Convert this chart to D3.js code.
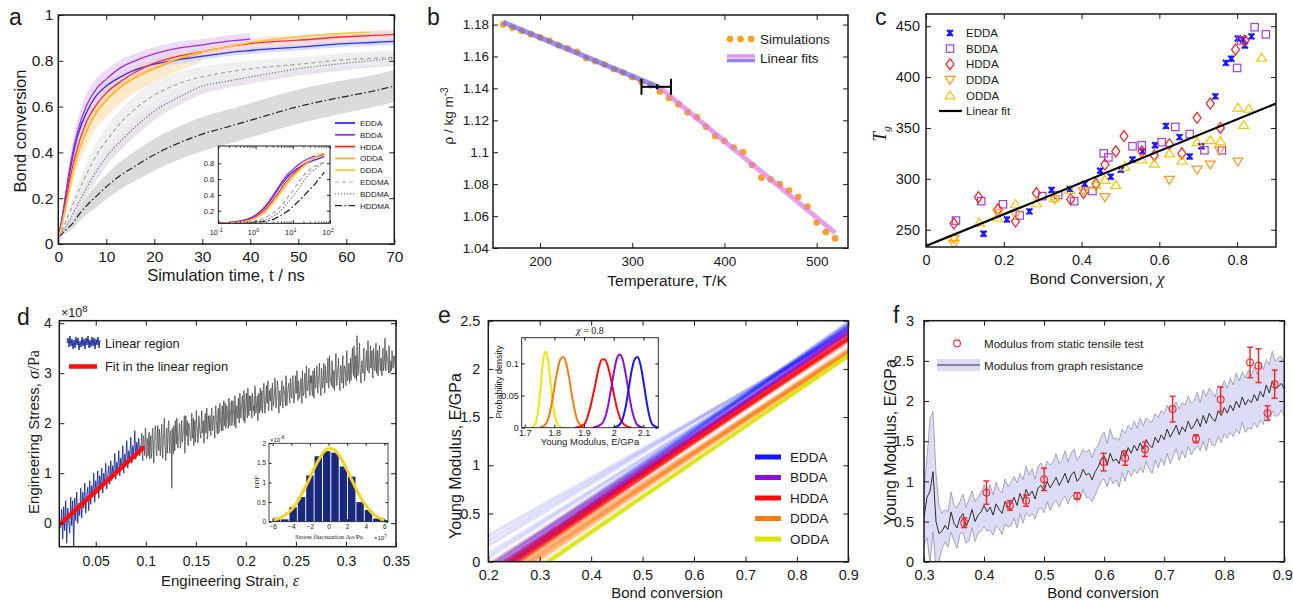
<!DOCTYPE html>
<html>
<head>
<meta charset="utf-8">
<script src="https://cdn.jsdelivr.net/npm/d3@7"></script>
<style>
  body { margin: 0; background: #fff; }
</style>
</head>
<body>
<svg id="fig" width="1293" height="601"></svg>
<script>
/* ---------- data : panel a (bond conversion vs time) ---------- */
var aTime  = [0.1,0.3,0.6,1,2,3,4,6,8,10,13,16,20,25,30,35,40,50,60,65,70];
var aEDDA  = [0.04,0.06,0.09,0.14,0.27,0.38,0.47,0.58,0.65,0.69,0.73,0.76,0.785,0.805,0.82,0.835,0.845,0.86,0.875,0.88,0.885];
var aBDDA  = [0.04,0.06,0.09,0.14,0.28,0.40,0.49,0.61,0.68,0.72,0.77,0.80,0.83,0.855,0.87,0.885,0.895];
var aHDDA  = [0.04,0.05,0.08,0.12,0.24,0.34,0.42,0.54,0.61,0.66,0.71,0.75,0.79,0.82,0.84,0.86,0.875,0.89,0.905,0.91,0.915];
var aODDA  = [0.04,0.05,0.07,0.105,0.205,0.305,0.385,0.495,0.575,0.625,0.685,0.725,0.765,0.805,0.835];
var aDDDA  = [0.04,0.05,0.07,0.11,0.21,0.31,0.39,0.50,0.58,0.63,0.69,0.73,0.77,0.81,0.84,0.86,0.88,0.905,0.92,0.925];
var aEDDMA = [0.03,0.04,0.05,0.07,0.12,0.17,0.22,0.31,0.39,0.45,0.53,0.59,0.65,0.70,0.73,0.75,0.765,0.785,0.805,0.81,0.815];
var aBDDMA = [0.03,0.035,0.045,0.06,0.09,0.13,0.17,0.25,0.32,0.38,0.45,0.51,0.58,0.64,0.69,0.71,0.73,0.765,0.79,0.80,0.81];
var aHDDMA = [0.03,0.035,0.04,0.05,0.07,0.09,0.12,0.17,0.21,0.25,0.30,0.34,0.39,0.44,0.48,0.51,0.54,0.60,0.645,0.665,0.69];
// half widths of the shaded bands
var aSprEDDA  = [0.005,0.01,0.01,0.015,0.025,0.03,0.03,0.03,0.03,0.025,0.02,0.02,0.02,0.018,0.015,0.015,0.015,0.015,0.015,0.015,0.015];
var aSprBDDA  = [0.005,0.01,0.015,0.02,0.035,0.045,0.05,0.05,0.045,0.04,0.035,0.032,0.03,0.028,0.025,0.025,0.025];
var aSprHDDA  = [0.005,0.01,0.01,0.015,0.02,0.025,0.025,0.025,0.025,0.02,0.02,0.02,0.02,0.02,0.02,0.02,0.02,0.02,0.02,0.02,0.02];
var aSprODDA  = [0.005,0.01,0.01,0.015,0.03,0.04,0.05,0.06,0.065,0.07,0.07,0.065,0.06,0.05,0.04];
var aSprEDDMA = [0.005,0.01,0.01,0.015,0.02,0.03,0.04,0.05,0.055,0.06,0.06,0.06,0.055,0.05,0.045,0.04,0.035,0.03,0.03,0.03,0.03];
var aSprBDDMA = [0.005,0.01,0.01,0.015,0.02,0.025,0.03,0.035,0.04,0.04,0.04,0.04,0.04,0.035,0.035,0.03,0.03,0.03,0.03,0.03,0.03];
var aSprHDDMA = [0.005,0.01,0.01,0.01,0.02,0.025,0.03,0.04,0.05,0.055,0.06,0.065,0.07,0.072,0.075,0.075,0.075,0.075,0.072,0.07,0.07];

/* ---------- data : panel b (density vs temperature) ---------- */
var bTemp = [160,170,180,190,200,210,220,230,240,250,260,270,280,290,300,310,320,330,340,350,360,370,380,390,400,410,420,430,440,450,460,470,480,490,500,510,520];
var bRho  = [1.180,1.178,1.176,1.174,1.172,1.170,1.167,1.165,1.163,1.159,1.157,1.155,1.152,1.150,1.147,1.144,1.142,1.138,1.134,1.130,1.125,1.122,1.116,1.110,1.107,1.103,1.100,1.092,1.084,1.083,1.080,1.076,1.072,1.066,1.056,1.050,1.046];
var bGlassT = [160,330], bGlassRho = [1.1815,1.1405];
var bRubberT = [330,520], bRubberRho = [1.1405,1.0495];
var bTg = {mid: 327, lo: 310, hi: 342, rho: 1.141};

/* ---------- data : panel c (Tg vs bond conversion) ---------- */
var cEDDAx = [0.802,0.815,0.82,0.837,0.771,0.785,0.744,0.708,0.678,0.652,0.617,0.589,0.557,0.531,0.501,0.475,0.448,0.408,0.37,0.323,0.266,0.208,0.148];
var cEDDAy = [438,437,431,440,414,418,381,332,322,341,352,333,327,319,309,302,308,295,290,289,268,260,246];
var cBDDAx = [0.845,0.874,0.8,0.81,0.716,0.761,0.678,0.641,0.606,0.555,0.531,0.469,0.457,0.428,0.381,0.34,0.299,0.241,0.198,0.142,0.077];
var cBDDAy = [449,442,409,436,328,328,344,351,336,333,332,321,325,288,278,284,283,264,275,278,259];
var cHDDAx = [0.796,0.82,0.757,0.731,0.697,0.658,0.626,0.587,0.555,0.509,0.488,0.46,0.437,0.405,0.372,0.284,0.23,0.185,0.135,0.072];
var cHDDAy = [427,436,350,374,360,325,334,323,327,342,327,314,295,286,280,286,258,270,282,256];
var cDDDAx = [0.802,0.731,0.697,0.755,0.626,0.46,0.405,0.331,0.23,0.185,0.072,0.072];
var cDDDAy = [317,314,309,328,299,282,288,280,265,266,236,241];
var cODDAx = [0.863,0.802,0.83,0.817,0.757,0.731,0.697,0.658,0.626,0.587,0.555,0.511,0.488,0.46,0.437,0.37,0.33,0.284,0.23,0.184,0.137,0.072];
var cODDAy = [419,370,369,353,337,338,336,318,325,315,319,312,294,299,294,289,281,276,275,262,257,242];
var cFitX = [0, 0.9], cFitY = [234, 374];

/* ---------- data : panel d (stress-strain, units of 1e8 Pa) ---------- */
var dStep = 0.001;
var dBlueStart = 0.015;
var dBlue = [-0.10,0.28,-0.32,0.33,-0.15,0.45,-0.40,0.30,0.05,-0.20,
  0.52,-0.05,0.45,-0.48,0.50,0.05,0.62,0.00,0.40,0.15,
  0.70,0.10,0.62,0.30,0.80,0.20,0.55,0.72,0.25,0.85,
  0.38,0.75,0.52,1.00,0.42,0.85,0.60,1.05,0.50,0.95,
  0.72,1.10,0.60,1.00,0.80,1.20,0.68,0.95,1.15,0.78,
  1.25,0.85,1.15,0.95,1.40,0.88,1.22,1.05,1.45,0.95,
  1.30,1.12,1.55,1.00,1.38,1.20,1.65,1.10,1.45,1.28,
  1.72,1.20,1.55,1.38,1.85,1.28,1.62,1.45,1.70,1.35,1.55];
var dGrayStart = 0.095;
// samples at 0.095 + i*0.001
var dGray = [1.45,1.80,1.25,1.70,1.35,1.85,1.30,1.62,1.78,1.28,
  1.75,1.40,1.90,1.20,1.68,1.85,1.35,1.95,1.45,1.72,
  1.50,1.98,1.30,1.80,1.55,1.25,1.90,1.60,2.05,1.40,
  1.85,0.70,1.65,1.95,1.45,1.80,2.10,1.50,1.72,1.95,
  1.55,2.05,1.70,1.90,1.40,2.15,1.75,1.60,2.00,1.85,
  1.65,2.20,1.80,1.55,2.05,1.75,1.95,1.60,2.15,1.85,
  1.70,2.25,1.90,1.60,2.10,1.80,2.30,1.75,2.00,2.15,
  1.75,2.30,1.95,2.15,1.70,2.35,1.90,2.20,1.80,2.40,
  2.00,2.25,1.85,2.45,2.05,1.90,2.35,2.10,2.50,1.95,
  2.30,1.95,2.45,2.15,2.55,1.90,2.35,2.20,2.05,2.60,
  2.10,2.40,2.25,2.65,2.00,2.45,2.30,2.70,2.15,2.40,
  2.55,2.10,2.50,2.35,2.75,2.20,2.45,2.05,2.60,2.40,
  2.25,2.65,2.35,2.80,2.20,2.55,2.40,2.85,2.30,2.50,
  2.70,2.25,2.60,2.45,2.90,2.30,2.55,2.75,2.20,2.65,
  2.45,2.85,2.30,2.70,2.55,2.95,2.35,2.65,2.80,2.40,
  2.75,2.50,2.95,2.40,2.70,2.60,3.05,2.45,2.80,2.55,
  2.90,2.40,2.75,2.60,3.00,2.50,2.85,2.70,3.10,2.55,
  2.80,2.65,3.05,2.50,2.90,2.75,3.15,2.60,2.95,2.80,
  2.55,3.00,2.75,3.20,2.65,2.95,2.80,3.30,2.70,3.00,
  2.85,3.25,2.70,3.05,2.90,3.40,2.75,3.10,2.95,2.65,
  3.15,2.80,3.35,2.95,3.10,2.75,3.45,2.90,3.20,3.00,
  2.85,3.30,3.05,3.55,2.90,3.20,3.75,2.95,3.35,3.10,
  2.80,3.25,3.00,3.50,2.95,3.30,3.15,3.65,3.00,3.25,
  3.10,3.45,2.90,3.35,3.05,3.60,3.20,2.95,3.40,3.15,
  3.30,2.95,3.50,3.15,3.70,3.05,3.35,3.20,3.55,3.00,
  3.25,3.45,3.10,3.35,3.20,3.05];
// samples at 0.0955 + i*0.001 (between the ones above)
var dGrayMid = [1.62,1.38,1.75,1.48,1.90,1.42,1.70,1.35,1.82,1.55,
  1.30,1.80,1.52,1.65,1.95,1.40,1.72,1.58,1.88,1.35,
  1.78,1.45,1.68,2.10,1.52,1.85,1.40,1.95,1.62,1.80,
  1.60,1.90,1.38,1.75,2.05,1.58,1.85,1.65,2.00,1.50,
  1.95,1.62,1.85,2.15,1.68,1.78,2.05,1.55,1.92,1.72,
  2.00,1.70,2.10,1.82,1.62,2.25,1.88,1.70,2.02,1.78,
  2.10,1.80,2.05,1.72,2.20,1.95,1.68,2.15,1.85,2.00,
  2.20,1.85,2.10,1.80,2.25,2.05,1.78,2.30,1.95,2.10,
  1.85,2.35,2.15,1.95,2.40,2.00,2.25,1.90,2.30,2.15,
  2.45,2.05,2.30,1.95,2.40,2.25,2.10,2.50,2.00,2.35,
  2.30,2.55,2.05,2.50,2.20,2.60,2.10,2.35,2.55,2.25,
  2.35,2.60,2.25,2.15,2.65,2.30,2.55,2.35,2.20,2.70,
  2.50,2.20,2.70,2.45,2.30,2.75,2.40,2.25,2.65,2.45,
  2.45,2.80,2.35,2.55,2.75,2.40,2.85,2.50,2.60,2.35,
  2.65,2.40,2.75,2.60,2.35,2.85,2.55,2.75,2.45,2.90,
  2.55,2.85,2.65,2.50,2.95,2.60,2.75,2.85,2.50,2.70,
  2.70,3.05,2.55,2.85,2.70,3.15,2.65,2.80,2.60,2.95,
  2.95,2.55,2.85,3.10,2.70,3.00,2.65,2.90,3.20,2.70,
  3.10,2.70,2.95,2.60,3.15,2.85,3.05,2.75,3.35,2.85,
  2.75,3.10,2.95,2.65,3.20,2.85,3.05,3.30,2.80,3.15,
  2.95,3.25,2.70,3.15,3.05,3.40,2.85,3.05,2.80,3.30,
  3.05,3.50,2.95,3.15,3.35,2.85,3.25,3.05,3.60,2.95,
  3.20,3.05,3.40,2.85,3.15,3.45,3.05,3.30,3.10,3.55,
  3.25,2.95,3.50,3.10,3.30,3.00,3.45,3.15,3.55,3.05,
  3.15,3.40,3.05,3.30,3.10,3.45,3.25,3.00,3.40,3.20,
  3.05,3.35,3.15,3.25,3.00];
var dFitStrain = [0.0155, 0.097], dFitStress = [0.0, 1.5];
// inset: histogram of stress fluctuation (x in 1e7 Pa, pdf in 1e-8)
var dHistX = [-5.6,-4.7,-3.8,-2.9,-2.0,-1.1,-0.2,0.7,1.6,2.5,3.4,4.3,5.2,6.1];
var dHistY = [0.10,0.06,0.37,0.63,1.18,1.67,1.80,1.76,1.41,1.15,0.50,0.30,0.08,0.04];
var dGaussX = [-6,-5.5,-5,-4.5,-4,-3.5,-3,-2.5,-2,-1.5,-1,-0.5,0,0.5,1,1.5,2,2.5,3,3.5,4,4.5,5,5.5,6];
var dGaussY = [0.04,0.07,0.12,0.20,0.30,0.45,0.65,0.88,1.12,1.38,1.60,1.78,1.87,1.85,1.74,1.55,1.32,1.07,0.82,0.60,0.42,0.27,0.16,0.09,0.05];

/* ---------- data : panel e (ensemble of modulus fits) ---------- */
var eAt08EDDA  = [2.06,2.07,2.08,2.09,2.08,2.07,2.10,2.08,2.06,2.09,2.08,2.07,2.11,2.05,2.11,2.08,2.09,2.07];
var eSlopeEDDA = [3.70,3.65,3.72,3.60,3.55,3.50,3.68,3.40,3.30,3.20,3.10,3.00,3.62,3.75,3.80,3.66,3.74,3.58];
var eAt08BDDA  = [2.01,2.02,2.03,2.02,2.00,2.04,2.02,2.01,2.03,2.02,2.02,2.01];
var eSlopeBDDA = [3.60,3.65,3.70,3.55,3.50,3.75,3.62,3.45,3.68,3.58,3.64,3.66];
var eAt08HDDA  = [1.94,1.95,1.96,1.97,1.98,1.99,1.96,1.95,1.97,1.98,1.96,1.94,1.96,1.97];
var eSlopeHDDA = [3.40,3.50,3.55,3.60,3.65,3.70,3.45,3.60,3.50,3.35,3.62,3.55,3.58,3.52];
var eAt08DDDA  = [1.80,1.82,1.83,1.84,1.86,1.82,1.83,1.81,1.85,1.83,1.82,1.84];
var eSlopeDDDA = [3.40,3.50,3.55,3.52,3.65,3.35,3.48,3.60,3.42,3.53,3.58,3.45];
var eAt08ODDA  = [1.76,1.765,1.77,1.775,1.78,1.77,1.765,1.775,1.77];
var eSlopeODDA = [3.62,3.65,3.68,3.66,3.70,3.64,3.67,3.63,3.66];
// inset: distributions at chi = 0.8
var ePdfODDAx = [1.72,1.73,1.74,1.75,1.76,1.765,1.77,1.775,1.78,1.79,1.80,1.81,1.82,1.83];
var ePdfODDAy = [0,0.002,0.012,0.045,0.095,0.112,0.118,0.115,0.10,0.058,0.022,0.006,0.001,0];
var ePdfDDDAx = [1.75,1.77,1.78,1.79,1.80,1.81,1.82,1.83,1.84,1.85,1.86,1.87,1.88,1.90];
var ePdfDDDAy = [0,0.005,0.015,0.035,0.062,0.088,0.106,0.11,0.10,0.077,0.048,0.024,0.009,0];
var ePdfHDDAx = [1.87,1.90,1.92,1.93,1.94,1.95,1.96,1.97,1.98,1.99,2.00,2.01,2.02,2.04,2.06];
var ePdfHDDAy = [0,0.005,0.03,0.05,0.072,0.094,0.106,0.106,0.096,0.077,0.053,0.032,0.016,0.003,0];
var ePdfBDDAx = [1.93,1.96,1.97,1.98,1.99,2.00,2.01,2.02,2.03,2.04,2.05,2.06,2.07,2.08,2.10];
var ePdfBDDAy = [0,0.006,0.015,0.032,0.058,0.085,0.107,0.114,0.106,0.084,0.056,0.03,0.013,0.004,0];
var ePdfEDDAx = [2.00,2.02,2.03,2.04,2.05,2.06,2.07,2.08,2.09,2.10,2.11,2.12,2.13,2.15];
var ePdfEDDAy = [0,0.005,0.014,0.032,0.06,0.088,0.106,0.11,0.098,0.072,0.042,0.018,0.005,0];

/* ---------- data : panel f (modulus vs bond conversion) ---------- */
var fStart = 0.3, fStep = 0.005;
var fMean = [0.55,0.80,0.88,1.12,0.50,0.35,0.38,0.45,0.40,0.62,
  0.48,0.42,0.55,0.60,0.45,0.52,0.65,0.50,0.58,0.62,
  0.70,0.62,0.68,0.58,0.72,0.65,0.60,0.75,0.68,0.72,
  0.80,0.70,0.85,0.75,0.90,0.82,0.88,0.78,0.92,0.95,
  0.88,1.00,0.92,0.98,1.05,0.95,1.02,1.10,0.98,1.08,
  1.12,1.00,1.05,1.15,1.08,1.10,1.02,1.12,1.18,1.28,
  1.32,1.20,1.35,1.25,1.28,1.22,1.38,1.30,1.42,1.35,
  1.45,1.38,1.48,1.40,1.52,1.45,1.42,1.55,1.48,1.58,
  1.52,1.65,1.55,1.62,1.70,1.58,1.68,1.62,1.75,1.65,
  1.70,1.78,1.68,1.82,1.72,1.85,1.78,1.75,1.88,1.82,
  1.92,1.85,1.95,1.88,2.00,1.92,2.05,1.95,2.02,1.98,
  2.08,2.00,2.12,2.05,2.20,2.10,2.25,2.15,2.18,2.22,
  2.15];
var fHalf = [0.35,0.50,0.90,0.75,0.60,0.35,0.22,0.20,0.22,0.25,
  0.22,0.25,0.20,0.24,0.22,0.26,0.23,0.25,0.22,0.24,
  0.26,0.24,0.28,0.25,0.27,0.24,0.26,0.28,0.25,0.27,
  0.26,0.28,0.25,0.27,0.29,0.26,0.28,0.25,0.27,0.28,
  0.27,0.25,0.28,0.26,0.29,0.27,0.25,0.28,0.26,0.27,
  0.28,0.26,0.27,0.25,0.28,0.30,0.27,0.29,0.26,0.28,
  0.29,0.27,0.30,0.28,0.26,0.29,0.27,0.30,0.28,0.29,
  0.30,0.28,0.31,0.29,0.27,0.30,0.32,0.29,0.31,0.30,
  0.32,0.30,0.33,0.31,0.29,0.32,0.30,0.33,0.31,0.32,
  0.31,0.33,0.30,0.32,0.34,0.31,0.33,0.30,0.32,0.34,
  0.33,0.31,0.34,0.32,0.35,0.33,0.31,0.34,0.36,0.33,
  0.35,0.33,0.36,0.34,0.32,0.35,0.37,0.34,0.36,0.33,
  0.34];
var fTestX   = [0.367,0.404,0.443,0.47,0.5,0.555,0.599,0.635,0.668,0.714,0.753,0.794,0.843,0.857,0.872,0.884];
var fTestY   = [0.485,0.86,0.70,0.76,1.025,0.82,1.24,1.29,1.40,1.90,1.53,2.02,2.48,2.44,1.85,2.21];
var fTestErr = [0.06,0.145,0.06,0.07,0.14,0.04,0.11,0.09,0.09,0.16,0.05,0.155,0.19,0.21,0.09,0.175];

/************ helpers ************/
var SANS = '"Liberation Sans", Arial, Helvetica, sans-serif';
var SERIF = '"Liberation Serif", "DejaVu Serif", "Times New Roman", serif';
var INK = "#1a1a1a";
var svg = d3.select("#fig");
var defs = svg.append("defs");
var clipCount = 0;

function clipFor(x, y) {
  var id = "clip" + (clipCount++);
  defs.append("clipPath").attr("id", id).append("rect")
    .attr("x", x.range()[0]).attr("y", y.range()[1])
    .attr("width", x.range()[1] - x.range()[0])
    .attr("height", y.range()[0] - y.range()[1]);
  return "url(#" + id + ")";
}

// MATLAB-like box with inward ticks on all four sides
function frame(x, y, o) {
  var g = svg.append("g");
  var L = x.range()[0], R = x.range()[1], B = y.range()[0], T = y.range()[1];
  var tl = o.tick || 5;
  var sides = [
    [d3.axisBottom(x), "translate(0," + B + ")", o.xTicks, o.xFmt || d3.format(""), o.xPad],
    [d3.axisTop(x), "translate(0," + T + ")", o.xTicks, null, 0],
    [d3.axisLeft(y), "translate(" + L + ",0)", o.yTicks, o.yFmt || d3.format(""), o.yPad],
    [d3.axisRight(y), "translate(" + R + ",0)", o.yTicks, null, 0]
  ];
  var axes = [];
  sides.forEach(function(s) {
    var ax = s[0].tickValues(s[2]).tickSize(-tl).tickPadding(s[4] == null ? 5 : s[4])
      .tickFormat(s[3] || function() { return ""; });
    var a = g.append("g").attr("transform", s[1]).call(ax)
      .attr("font-size", o.fs).attr("font-family", SANS).attr("color", INK);
    a.select(".domain").remove();
    a.selectAll("line").attr("stroke-width", o.tw || 1);
    axes.push(a);
  });
  g.append("rect").attr("x", L).attr("y", T).attr("width", R - L).attr("height", B - T)
    .attr("fill", "none").attr("stroke", INK).attr("stroke-width", o.sw || 1.5);
  g.bottomAxis = axes[0];
  return g;
}

function text(x, y, str, fs, o) {
  o = o || {};
  var t = svg.append("text").attr("x", x).attr("y", y)
    .attr("font-size", fs).attr("font-family", o.family || SANS)
    .attr("fill", o.fill || INK).attr("text-anchor", o.anchor || "start");
  if (o.rotate) t.attr("transform", "rotate(-90," + x + "," + y + ")");
  if (str !== null) t.text(str);
  return t;
}

function panelLetter(x, y, s) { text(x, y, s, 23); }

/************ panel a ************/
(function() {
  var x = d3.scaleLinear().domain([0, 70]).range([58.3, 394.3]);
  var y = d3.scaleLinear().domain([0, 1]).range([244, 15]);
  var clip = clipFor(x, y);
  var series = [
    {name: "HDDMA", v: aHDDMA, s: aSprHDDMA, c: "#222", band: "#d2d2d2", dash: "7,2.5,1.5,2.5", w: 1.2},
    {name: "BDDMA", v: aBDDMA, s: aSprBDDMA, c: "#777", band: "#e3dce8", dash: "1.2,1.8", w: 1.2},
    {name: "EDDMA", v: aEDDMA, s: aSprEDDMA, c: "#a8a8a8", band: "#ececec", dash: "4,3", w: 1.2},
    {name: "ODDA", v: aODDA, s: aSprODDA, c: "#ffa733", band: "#fde3bf", dash: null, w: 1.3},
    {name: "EDDA", v: aEDDA, s: aSprEDDA, c: "#2b2bff", band: "#cfd5ff", dash: null, w: 1.3},
    {name: "HDDA", v: aHDDA, s: aSprHDDA, c: "#ff2b2b", band: "#ffd3d6", dash: null, w: 1.3},
    {name: "BDDA", v: aBDDA, s: aSprBDDA, c: "#9b2fdb", band: "#e9d3f6", dash: null, w: 1.3},
    {name: "DDDA", v: aDDDA, s: null, c: "#ffc62a", band: null, dash: null, w: 1.4}
  ];
  var rows = function(sr) { return sr.v.map(function(v, i) { return {t: aTime[i], v: v, s: sr.s ? sr.s[i] : 0}; }); };
  var area = d3.area().curve(d3.curveMonotoneX)
    .x(function(d) { return x(d.t); })
    .y0(function(d) { return y(d.v - d.s); }).y1(function(d) { return y(d.v + d.s); });
  var line = d3.line().curve(d3.curveMonotoneX)
    .x(function(d) { return x(d.t); }).y(function(d) { return y(d.v); });
  var g = svg.append("g").attr("clip-path", clip);
  series.forEach(function(sr) {
    if (sr.band) g.append("path").attr("d", area(rows(sr))).attr("fill", sr.band).attr("opacity", 0.8);
  });
  series.forEach(function(sr) {
    g.append("path").attr("d", line(rows(sr))).attr("fill", "none").attr("stroke", sr.c)
      .attr("stroke-width", sr.w).attr("stroke-dasharray", sr.dash);
  });
  frame(x, y, {xTicks: d3.range(0, 71, 10), yTicks: [0, 0.2, 0.4, 0.6, 0.8, 1], fs: 15.5, xPad: 6.5, yPad: 5});
  text(226, 281, "Simulation time, t / ns", 16.5, {anchor: "middle"});
  text(26, 131, "Bond conversion", 16.5, {anchor: "middle", rotate: true});
  panelLetter(9, 25, "a");

  // inset on log time axis
  var xi = d3.scaleLog().domain([0.1, 100]).range([218.3, 330]);
  var yi = d3.scaleLinear().domain([0.04, 1.02]).range([223.3, 146]);
  svg.append("rect").attr("x", 218.3).attr("y", 146).attr("width", 111.7).attr("height", 77.3).attr("fill", "#fff");
  var gi = svg.append("g").attr("clip-path", clipFor(xi, yi));
  var lineI = d3.line().curve(d3.curveMonotoneX)
    .x(function(d) { return xi(d.t); }).y(function(d) { return yi(d.v); });
  series.forEach(function(sr) {
    gi.append("path").attr("d", lineI(rows(sr))).attr("fill", "none").attr("stroke", sr.c)
      .attr("stroke-width", 1.3).attr("stroke-dasharray", sr.dash);
  });
  frame(xi, yi, {xTicks: [0.1, 1, 10, 100], xFmt: function() { return ""; }, yTicks: [0.2, 0.4, 0.6, 0.8], fs: 7.5, tick: 3, sw: 1, yPad: 4});
  var minors = [];
  [0.1, 1, 10].forEach(function(d) { for (var k = 2; k < 10; k++) minors.push(d * k); });
  var gm = svg.append("g").attr("stroke", INK).attr("stroke-width", 0.7);
  minors.forEach(function(m) {
    gm.append("line").attr("x1", xi(m)).attr("x2", xi(m)).attr("y1", 223.3).attr("y2", 221.3);
    gm.append("line").attr("x1", xi(m)).attr("x2", xi(m)).attr("y1", 146).attr("y2", 148);
  });
  [[0.1, "-1"], [1, "0"], [10, "1"], [100, "2"]].forEach(function(p) {
    var t = text(xi(p[0]) - 2, 235, null, 7.5, {anchor: "middle"});
    t.append("tspan").text("10");
    t.append("tspan").attr("dy", -3.5).attr("font-size", 5.5).text(p[1]);
  });

  // legend
  var legOrder = ["EDDA", "BDDA", "HDDA", "ODDA", "DDDA", "EDDMA", "BDDMA", "HDDMA"];
  legOrder.forEach(function(n, i) {
    var sr = series.filter(function(s) { return s.name === n; })[0];
    var ly = 123 + i * 11.8;
    svg.append("line").attr("x1", 335).attr("x2", 355).attr("y1", ly).attr("y2", ly)
      .attr("stroke", sr.c).attr("stroke-width", sr.dash ? 1.2 : 1.8).attr("stroke-dasharray", sr.dash);
    text(360, ly + 3, n, 8);
  });
})();

/************ panel b ************/
(function() {
  var x = d3.scaleLinear().domain([149, 534]).range([493, 848]);
  var y = d3.scaleLinear().domain([1.04, 1.186]).range([248, 15]);
  var g = svg.append("g").attr("clip-path", clipFor(x, y));
  g.selectAll("circle").data(bTemp).enter().append("circle")
    .attr("cx", function(d) { return x(d); })
    .attr("cy", function(d, i) { return y(bRho[i]); })
    .attr("r", 3.3).attr("fill", "#f7a21b");
  var fit = function(ts, rs) { return ts.map(function(t, i) { return [x(t), y(rs[i])]; }); };
  g.append("path").attr("d", d3.line()(fit(bGlassT, bGlassRho))).attr("stroke", "#7466ee")
    .attr("stroke-width", 5).attr("opacity", 0.72).attr("fill", "none");
  g.append("path").attr("d", d3.line()(fit(bRubberT, bRubberRho))).attr("stroke", "#e27ae3")
    .attr("stroke-width", 5).attr("opacity", 0.72).attr("fill", "none");
  // Tg error bar
  var eb = svg.append("g").attr("stroke", "#000").attr("stroke-width", 2);
  eb.append("line").attr("x1", x(bTg.lo)).attr("x2", x(bTg.hi)).attr("y1", y(bTg.rho)).attr("y2", y(bTg.rho));
  [bTg.lo, bTg.hi].forEach(function(t) {
    eb.append("line").attr("x1", x(t)).attr("x2", x(t)).attr("y1", y(bTg.rho) - 8).attr("y2", y(bTg.rho) + 8);
  });
  eb.append("line").attr("x1", x(bTg.mid)).attr("x2", x(bTg.mid)).attr("y1", y(bTg.rho) - 2.5).attr("y2", y(bTg.rho) + 2.5);

  frame(x, y, {xTicks: [200, 300, 400, 500], yTicks: [1.04, 1.06, 1.08, 1.1, 1.12, 1.14, 1.16, 1.18], fs: 13.5, xPad: 8.5, yPad: 4});
  text(667, 286, "Temperature, T/K", 15.5, {anchor: "middle"});
  var yl = text(453, 116, null, 13.5, {anchor: "middle", rotate: true});
  yl.append("tspan").text("\u03c1 / kg m");
  yl.append("tspan").attr("dy", -5).attr("font-size", 10).text("-3");
  panelLetter(427, 25, "b");

  // legend
  [730, 740.5, 751].forEach(function(cx) {
    svg.append("circle").attr("cx", cx).attr("cy", 39).attr("r", 3.3).attr("fill", "#f7a21b");
  });
  text(760, 44, "Simulations", 13.5);
  svg.append("line").attr("x1", 727).attr("x2", 755).attr("y1", 56).attr("y2", 56).attr("stroke", "#e27ae3").attr("stroke-width", 3.5).attr("opacity", 0.8);
  svg.append("line").attr("x1", 727).attr("x2", 755).attr("y1", 60.5).attr("y2", 60.5).attr("stroke", "#7466ee").attr("stroke-width", 3.5).attr("opacity", 0.8);
  text(760, 63, "Linear fits", 13.5);
})();

/************ panel c ************/
var cMarks = {
  EDDA: function(g, px, py, c) {
    g.append("path").attr("d", "M" + (px - 3) + "," + (py - 3) + "L" + (px + 3) + "," + (py + 3) + "M" + (px - 3) + "," + (py + 3) + "L" + (px + 3) + "," + (py - 3) + "M" + px + "," + (py - 3.2) + "L" + px + "," + (py + 3.2))
      .attr("stroke", c).attr("stroke-width", 2).attr("fill", "none");
  },
  BDDA: function(g, px, py, c) {
    g.append("rect").attr("x", px - 3.7).attr("y", py - 3.7).attr("width", 7.4).attr("height", 7.4)
      .attr("fill", "none").attr("stroke", c).attr("stroke-width", 1.2);
  },
  HDDA: function(g, px, py, c) {
    g.append("path").attr("d", "M" + px + "," + (py - 5.5) + "L" + (px + 4) + "," + py + "L" + px + "," + (py + 5.5) + "L" + (px - 4) + "," + py + "Z")
      .attr("fill", "none").attr("stroke", c).attr("stroke-width", 1.2);
  },
  DDDA: function(g, px, py, c) {
    g.append("path").attr("d", "M" + (px - 5) + "," + (py - 3.5) + "L" + (px + 5) + "," + (py - 3.5) + "L" + px + "," + (py + 4.5) + "Z")
      .attr("fill", "none").attr("stroke", c).attr("stroke-width", 1.2);
  },
  ODDA: function(g, px, py, c) {
    g.append("path").attr("d", "M" + (px - 5) + "," + (py + 3.5) + "L" + (px + 5) + "," + (py + 3.5) + "L" + px + "," + (py - 4.5) + "Z")
      .attr("fill", "none").attr("stroke", c).attr("stroke-width", 1.2);
  }
};
(function() {
  var x = d3.scaleLinear().domain([0, 0.9]).range([926, 1276]);
  var y = d3.scaleLinear().domain([233, 462]).range([247, 14]);
  var g = svg.append("g").attr("clip-path", clipFor(x, y));
  var sets = [
    ["EDDA", cEDDAx, cEDDAy, "#1a1aff"],
    ["BDDA", cBDDAx, cBDDAy, "#a23fd9"],
    ["HDDA", cHDDAx, cHDDAy, "#ff1f1f"],
    ["DDDA", cDDDAx, cDDDAy, "#ff9a1a"],
    ["ODDA", cODDAx, cODDAy, "#f7c600"]
  ];
  sets.forEach(function(s) {
    s[1].forEach(function(v, i) { cMarks[s[0]](g, x(v), y(s[2][i]), s[3]); });
  });
  g.append("line").attr("x1", x(cFitX[0])).attr("y1", y(cFitY[0])).attr("x2", x(cFitX[1])).attr("y2", y(cFitY[1]))
    .attr("stroke", "#000").attr("stroke-width", 2.2);
  frame(x, y, {xTicks: [0, 0.2, 0.4, 0.6, 0.8], yTicks: [250, 300, 350, 400, 450], fs: 14.5, xPad: 8, yPad: 6});
  var xl = text(1097, 284, null, 15.5, {anchor: "middle"});
  xl.append("tspan").text("Bond Conversion, ");
  xl.append("tspan").attr("font-family", SERIF).attr("font-style", "italic").attr("font-size", 17).text("\u03c7");
  var yl = text(886, 134, null, 18, {anchor: "middle", rotate: true, family: SERIF});
  yl.append("tspan").attr("font-style", "italic").text("T");
  yl.append("tspan").attr("font-style", "italic").attr("font-size", 11).attr("dy", 4).text("g");
  panelLetter(875, 25, "c");
  // legend
  sets.forEach(function(s, i) {
    var ly = 33 + i * 15.6;
    cMarks[s[0]](svg, 950, ly, s[3]);
    text(966, ly + 4.2, s[0], 11.5);
  });
  svg.append("line").attr("x1", 939).attr("x2", 962).attr("y1", 111).attr("y2", 111).attr("stroke", "#000").attr("stroke-width", 2.2);
  text(966, 115.2, "Linear fit", 11.5);
})();

/************ panel d ************/
(function() {
  var x = d3.scaleLinear().domain([0.0136, 0.35]).range([59.3, 396]);
  var y = d3.scaleLinear().domain([-0.47, 4.05]).range([546.7, 320.7]);
  var g = svg.append("g").attr("clip-path", clipFor(x, y));
  var pts = function(vals, start) { return vals.map(function(v, i) { return [x(start + i * dStep), y(v)]; }); };
  // interleave the two gray sample sets along strain
  var grayA = pts(dGray, dGrayStart), grayB = pts(dGrayMid, dGrayStart + dStep / 2), gray = [];
  grayA.forEach(function(p, i) { gray.push(p); if (grayB[i]) gray.push(grayB[i]); });
  g.append("path").attr("d", d3.line()(gray)).attr("fill", "none").attr("stroke", "#4d4d4d").attr("stroke-width", 0.8);
  g.append("path").attr("d", d3.line()(pts(dBlue, dBlueStart))).attr("fill", "none").attr("stroke", "#1d2f9a").attr("stroke-width", 0.9);
  g.append("line").attr("x1", x(dFitStrain[0])).attr("y1", y(dFitStress[0])).attr("x2", x(dFitStrain[1])).attr("y2", y(dFitStress[1]))
    .attr("stroke", "#ff0d0d").attr("stroke-width", 4.5).attr("stroke-linecap", "round");
  frame(x, y, {xTicks: [0.05, 0.1, 0.15, 0.2, 0.25, 0.3, 0.35], yTicks: [0, 1, 2, 3, 4], fs: 14, xPad: 9, yPad: 7.5});
  var m = text(61, 317, null, 12.5);
  m.append("tspan").text("\u00d710");
  m.append("tspan").attr("dy", -5).attr("font-size", 9.5).text("8");
  var xl = text(230, 586, null, 15, {anchor: "middle"});
  xl.append("tspan").text("Engineering Strain, ");
  xl.append("tspan").attr("font-family", SERIF).attr("font-style", "italic").attr("font-size", 16).text("\u03b5");
  var yl = text(39, 432, null, 15, {anchor: "middle", rotate: true});
  yl.append("tspan").text("Engineering Stress, ");
  yl.append("tspan").attr("font-family", SERIF).attr("font-style", "italic").attr("font-size", 17).text("\u03c3");
  yl.append("tspan").attr("font-family", SERIF).attr("font-size", 16).text("/Pa");
  panelLetter(17, 325, "d");

  // legend
  var sw = [0,-5,4,-7,3,-4,6,-3,5,-6,2,-5,7,-2,4,-6,3,-4,6,-5,2,-7,5,-3,4,-6,3,-5,6,-4,2,-6,5,-3];
  svg.append("path").attr("d", d3.line()(sw.map(function(v, i) { return [67 + i, 343 + v]; })))
    .attr("fill", "none").attr("stroke", "#1d2f9a").attr("stroke-width", 1);
  text(105, 348, "Linear region", 12.8);
  svg.append("line").attr("x1", 69).attr("x2", 97).attr("y1", 366.5).attr("y2", 366.5).attr("stroke", "#ff0d0d").attr("stroke-width", 4.5);
  text(105, 371, "Fit in the linear region", 12.8);

  // inset histogram
  var xi = d3.scaleLinear().domain([-6.4, 6.4]).range([269, 388]);
  var yi = d3.scaleLinear().domain([0, 2]).range([521.7, 443.3]);
  svg.append("rect").attr("x", 269).attr("y", 443.3).attr("width", 119).attr("height", 78.4).attr("fill", "#fff");
  var gi = svg.append("g").attr("clip-path", clipFor(xi, yi));
  gi.selectAll("rect").data(dHistX).enter().append("rect")
    .attr("x", function(d) { return xi(d - 0.4); })
    .attr("width", xi(0.8) - xi(0))
    .attr("y", function(d, i) { return yi(dHistY[i]); })
    .attr("height", function(d, i) { return yi(0) - yi(dHistY[i]); })
    .attr("fill", "#19287f");
  gi.append("path").attr("d", d3.line().curve(d3.curveMonotoneX)(dGaussX.map(function(v, i) { return [xi(v), yi(dGaussY[i])]; })))
    .attr("fill", "none").attr("stroke", "#f5d21f").attr("stroke-width", 3);
  frame(xi, yi, {xTicks: [-6, -4, -2, 0, 2, 4, 6], yTicks: [0, 0.5, 1, 1.5, 2], fs: 6.5, tick: 2.5, sw: 0.8, xPad: 2.5, yPad: 3});
  var e1 = text(270, 441.5, null, 6);
  e1.append("tspan").text("\u00d710");
  e1.append("tspan").attr("dy", -2.5).attr("font-size", 4.5).text("-8");
  var e2 = text(374, 540, null, 6);
  e2.append("tspan").text("\u00d710");
  e2.append("tspan").attr("dy", -2.5).attr("font-size", 4.5).text("7");
  text(329, 539, "Stress fluctuation \u0394\u03c3/Pa", 7, {anchor: "middle", family: SERIF});
  text(259, 482, "PDF", 7, {anchor: "middle", family: SERIF, rotate: true});
})();

/************ panel e ************/
(function() {
  var x = d3.scaleLinear().domain([0.2, 0.9]).range([488.3, 848.3]);
  var y = d3.scaleLinear().domain([0, 2.5]).range([561.7, 320.7]);
  var g = svg.append("g").attr("clip-path", clipFor(x, y));
  var fams = [
    ["EDDA", eAt08EDDA, eSlopeEDDA, "#1414ff", 0.12],
    ["BDDA", eAt08BDDA, eSlopeBDDA, "#8f0fd6", 0.2],
    ["HDDA", eAt08HDDA, eSlopeHDDA, "#ff0a0a", 0.2],
    ["DDDA", eAt08DDDA, eSlopeDDDA, "#ff7a0f", 0.2],
    ["ODDA", eAt08ODDA, eSlopeODDA, "#d8e40a", 0.25]
  ];
  fams.forEach(function(f) {
    f[1].forEach(function(e08, i) {
      var k = f[2][i];
      g.append("line")
        .attr("x1", x(0.2)).attr("y1", y(e08 + k * (0.2 - 0.8)))
        .attr("x2", x(0.9)).attr("y2", y(e08 + k * (0.9 - 0.8)))
        .attr("stroke", f[3]).attr("stroke-width", 3.5).attr("opacity", f[4]);
    });
  });
  frame(x, y, {xTicks: [0.2, 0.3, 0.4, 0.5, 0.6, 0.7, 0.8, 0.9], yTicks: [0, 0.5, 1, 1.5, 2, 2.5], fs: 14.5, xPad: 8.5, yPad: 8});
  text(667, 597.5, "Bond conversion", 15, {anchor: "middle"});
  text(461, 456, "Young Modulus, E/GPa", 16, {anchor: "middle", rotate: true});
  panelLetter(438, 323, "e");
  // legend
  fams.forEach(function(f, i) {
    var ly = 457 + i * 20.5;
    svg.append("line").attr("x1", 755).attr("x2", 781).attr("y1", ly).attr("y2", ly).attr("stroke", f[3]).attr("stroke-width", 5);
    text(790, ly + 4.8, f[0], 13.5);
  });

  // inset distributions
  var xi = d3.scaleLinear().domain([1.69, 2.15]).range([521.7, 658.3]);
  var yi = d3.scaleLinear().domain([0, 0.14]).range([427.7, 337.7]);
  svg.append("rect").attr("x", 521.7).attr("y", 337.7).attr("width", 136.6).attr("height", 90).attr("fill", "#fff");
  var gi = svg.append("g").attr("clip-path", clipFor(xi, yi));
  var pdfs = [
    [ePdfODDAx, ePdfODDAy, "#e6ea0c"],
    [ePdfDDDAx, ePdfDDDAy, "#ff7a0f"],
    [ePdfHDDAx, ePdfHDDAy, "#ff0a0a"],
    [ePdfBDDAx, ePdfBDDAy, "#8f0fd6"],
    [ePdfEDDAx, ePdfEDDAy, "#1414ff"]
  ];
  pdfs.forEach(function(p) {
    gi.append("path").attr("d", d3.line().curve(d3.curveMonotoneX)(p[0].map(function(v, i) { return [xi(v), yi(p[1][i])]; })))
      .attr("fill", "none").attr("stroke", p[2]).attr("stroke-width", 2);
  });
  frame(xi, yi, {xTicks: [1.7, 1.8, 1.9, 2, 2.1], yTicks: [0, 0.05, 0.1], fs: 9, tick: 3, sw: 0.9, xPad: 2, yPad: 3});
  var tt = text(590, 334, null, 10, {anchor: "middle", family: SERIF});
  tt.append("tspan").attr("font-style", "italic").text("\u03c7");
  tt.append("tspan").text(" = 0.8");
  text(590, 445, "Young Modulus, E/GPa", 9.5, {anchor: "middle"});
  text(502, 382, "Probability density", 9, {anchor: "middle", rotate: true});
})();

/************ panel f ************/
(function() {
  var x = d3.scaleLinear().domain([0.3, 0.9]).range([924, 1284.3]);
  var y = d3.scaleLinear().domain([0, 3]).range([561.7, 320.7]);
  var g = svg.append("g").attr("clip-path", clipFor(x, y));
  var rows = fMean.map(function(v, i) { return {c: fStart + i * fStep, v: v, h: fHalf[i]}; });
  g.append("path").attr("d", d3.area()
      .x(function(d) { return x(d.c); })
      .y0(function(d) { return y(d.v - d.h); }).y1(function(d) { return y(d.v + d.h); })(rows))
    .attr("fill", "#dcdcf6");
  [-1, 1].forEach(function(sg) {
    g.append("path").attr("d", d3.line()
        .x(function(d) { return x(d.c); }).y(function(d) { return y(d.v + sg * d.h); })(rows))
      .attr("fill", "none").attr("stroke", "#9c9cb4").attr("stroke-width", 0.9);
  });
  g.append("path").attr("d", d3.line()
      .x(function(d) { return x(d.c); }).y(function(d) { return y(d.v); })(rows))
    .attr("fill", "none").attr("stroke", "#2e2e2e").attr("stroke-width", 1);
  var eb = svg.append("g").attr("stroke", "#ff2020").attr("stroke-width", 1.4).attr("fill", "none");
  fTestX.forEach(function(cx, i) {
    var px = x(cx), y0 = y(fTestY[i] - fTestErr[i]), y1 = y(fTestY[i] + fTestErr[i]);
    eb.append("line").attr("x1", px).attr("x2", px).attr("y1", y0).attr("y2", y1);
    eb.append("line").attr("x1", px - 3).attr("x2", px + 3).attr("y1", y0).attr("y2", y0);
    eb.append("line").attr("x1", px - 3).attr("x2", px + 3).attr("y1", y1).attr("y2", y1);
    eb.append("circle").attr("cx", px).attr("cy", y(fTestY[i])).attr("r", 3.4).attr("stroke-width", 1.1);
  });
  var fr = frame(x, y, {xTicks: [0.3, 0.4, 0.5, 0.6, 0.7, 0.8, 0.9], yTicks: [0, 0.5, 1, 1.5, 2, 2.5, 3], fs: 14.5, xPad: 8.5, yPad: 10});
  // last tick label sits against the page edge: right-align it so it stays inside
  fr.bottomAxis.selectAll(".tick text").filter(function(d) { return d === 0.9; })
    .attr("text-anchor", "end").attr("dx", 8);
  text(1103, 597.5, "Bond conversion", 15, {anchor: "middle"});
  text(896, 442, "Young Modulus, E/GPa", 16, {anchor: "middle", rotate: true});
  panelLetter(893, 323, "f");
  // legend
  svg.append("circle").attr("cx", 957).attr("cy", 343.3).attr("r", 3.4).attr("fill", "none").attr("stroke", "#ff2020").attr("stroke-width", 1.1);
  text(984, 347.5, "Modulus from static tensile test", 11.6);
  svg.append("rect").attr("x", 937).attr("y", 359).attr("width", 43).attr("height", 12).attr("fill", "#dcdcf6");
  svg.append("line").attr("x1", 937).attr("x2", 980).attr("y1", 365).attr("y2", 365).attr("stroke", "#2e2e2e").attr("stroke-width", 1.2);
  text(984, 369.5, "Modulus from graph resistance", 11.6);
})();
</script>
</body>
</html>
